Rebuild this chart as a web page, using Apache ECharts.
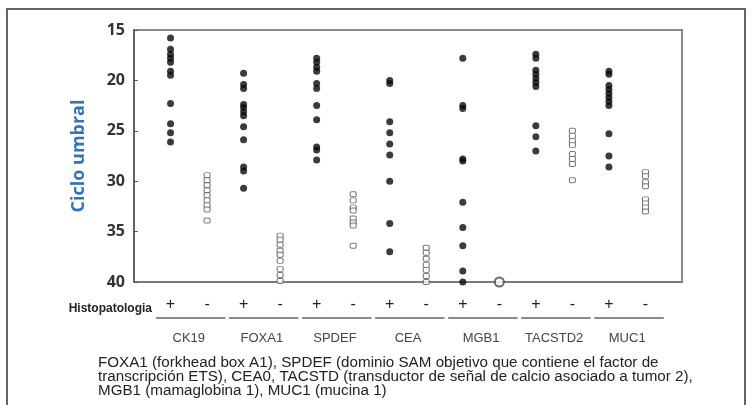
<!DOCTYPE html>
<html>
<head>
<meta charset="utf-8">
<script src="https://cdn.jsdelivr.net/npm/echarts@6/dist/echarts.min.js"></script>
<style>
  html, body { margin: 0; padding: 0; background: #fff; }
  #chart { width: 753px; height: 405px; }
</style>
</head>
<body>
<div id="chart"></div>
<script>
// genes, in plot order (each gets a "+" and a "-" column)
const genes = ['CK19', 'FOXA1', 'SPDEF', 'CEA', 'MGB1', 'TACSTD2', 'MUC1']
const histoSigns = ['+', '-']
const yTicks = [15, 20, 25, 30, 35, 40]

// threshold cycle values
const ck19Pos = [15.8, 16.9, 17.4, 17.8, 18.2, 19.1, 19.5, 22.3, 24.3, 25.2, 26.1]
const ck19Neg = [29.4, 29.9, 30.4, 30.9, 31.4, 31.9, 32.4, 32.8, 33.9]
const foxa1Pos = [19.3, 20.4, 20.8, 22.4, 22.7, 23.1, 23.5, 24.6, 25.9, 28.6, 29.0, 30.7]
const foxa1Neg = [35.4, 35.8, 36.3, 36.9, 37.3, 37.9, 38.7, 39.3, 39.9]
const spdefPos = [17.8, 18.2, 18.7, 19.1, 20.3, 20.8, 22.5, 23.9, 26.6, 26.9, 27.9]
const spdefNeg = [31.3, 31.9, 32.6, 32.9, 33.7, 34.1, 34.4, 36.4]
const ceaPos = [20.0, 20.3, 24.1, 25.2, 26.3, 27.4, 30.0, 34.2, 37.0]
const ceaNeg = [36.6, 37.1, 37.7, 38.3, 38.8, 39.4, 40.0]
const mgb1Pos = [17.8, 22.5, 22.8, 27.8, 28.0, 32.1, 34.6, 36.4, 38.9, 40.0]
const mgb1Neg = [40.0]
const tacstd2Pos = [17.4, 17.8, 19.0, 19.4, 19.8, 20.2, 20.6, 24.5, 25.6, 27.0]
const tacstd2Neg = [25.0, 25.5, 26.0, 26.4, 27.3, 27.8, 28.3, 29.9]
const muc1Pos = [19.1, 19.4, 20.5, 20.9, 21.3, 21.7, 22.1, 22.5, 25.3, 27.5, 28.6]
const muc1Neg = [29.1, 29.5, 30.1, 30.5, 31.8, 32.2, 32.6, 33.0]

const posLists = [ck19Pos, foxa1Pos, spdefPos, ceaPos, mgb1Pos, tacstd2Pos, muc1Pos]
const negLists = [ck19Neg, foxa1Neg, spdefNeg, ceaNeg, mgb1Neg, tacstd2Neg, muc1Neg]

const caption = [
  'FOXA1 (forkhead box A1), SPDEF (dominio SAM objetivo que contiene el factor de',
  'transcripción ETS), CEA0, TACSTD (transductor de señal de calcio asociado a tumor 2),',
  'MGB1 (mamaglobina 1), MUC1 (mucina 1)',
].join('\n')

// column positions on the x value axis: gene i -> "+" at 2i+1, "-" at 2i+2
const signPositions = genes.flatMap((_, i) => [2 * i + 1, 2 * i + 2])
const genePositions = genes.map((_, i) => 2 * i + 1.5)

const posData = posLists.flatMap((list, i) => list.map(v => [2 * i + 1, v]))
const negData = []
const bigNegData = []
negLists.forEach((list, i) => {
  list.forEach((v) => {
    if (genes[i] === 'MGB1')
      bigNegData.push([2 * i + 2, v])
    else
      negData.push([2 * i + 2, v])
  })
})

const chart = echarts.init(document.getElementById('chart'))
const GRID = { left: 134, right: 71, top: 30, bottom: 123 }

chart.setOption({
  animation: false,
  grid: { ...GRID, show: true, borderColor: '#8a8a8a', borderWidth: 2, backgroundColor: '#fff' },
  title: {
    text: caption,
    left: 93,
    top: 351,
    textStyle: { fontFamily: 'Liberation Sans, Arial', fontSize: 15.2, fontWeight: 'normal', color: '#222', lineHeight: 14 },
  },
  xAxis: [
    {
      type: 'value',
      min: 0,
      max: 15,
      position: 'bottom',
      splitLine: { show: false },
      axisLine: { show: true, lineStyle: { color: '#777', width: 1.5 } },
      axisTick: { show: false },
      axisLabel: {
        customValues: signPositions,
        formatter: v => histoSigns[(v - 1) % 2],
        margin: 23,
        verticalAlign: 'middle',
        fontFamily: 'Liberation Sans, Arial',
        fontSize: 16,
        color: '#222',
      },
    },
    {
      type: 'value',
      min: 0,
      max: 15,
      position: 'bottom',
      splitLine: { show: false },
      axisLine: { show: false },
      axisTick: { show: false },
      axisLabel: {
        customValues: genePositions,
        formatter: v => genes[(v - 1.5) / 2],
        margin: 56,
        verticalAlign: 'middle',
        fontFamily: 'Liberation Sans Narrow, Liberation Sans, Arial',
        fontSize: 13,
        color: '#444',
      },
    },
  ],
  yAxis: {
    type: 'value',
    inverse: true,
    min: yTicks[0],
    max: yTicks[yTicks.length - 1],
    interval: 5,
    name: 'Ciclo umbral',
    nameLocation: 'middle',
    nameGap: 46,
    nameTextStyle: { color: '#2f73c0', fontSize: 18, fontWeight: 'bold', fontFamily: 'Open Sans, Liberation Sans' },
    splitLine: { show: false },
    axisLine: { show: true, lineStyle: { color: '#555', width: 1.5 } },
    axisTick: { show: true, inside: true, length: 4, lineStyle: { color: '#555' } },
    axisLabel: { margin: 9, fontSize: 16, fontWeight: 'bold', color: '#333', fontFamily: 'Open Sans, Liberation Sans' },
  },
  series: [
    {
      name: 'positivo',
      type: 'scatter',
      clip: false,
      symbol: 'circle',
      symbolSize: 7,
      itemStyle: { color: '#0a0a0a' },
      data: posData,
    },
    {
      name: 'negativo',
      type: 'scatter',
      clip: false,
      symbol: 'roundRect',
      symbolSize: [6, 5],
      itemStyle: { color: '#fff', borderColor: '#555', borderWidth: 1 },
      data: negData,
    },
    {
      name: 'negativo MGB1',
      type: 'scatter',
      clip: false,
      symbol: 'circle',
      symbolSize: 9,
      itemStyle: { color: '#fff', borderColor: '#444', borderWidth: 2 },
      z: 3,
      data: bigNegData,
    },
  ],
})

// underlines below the +/- pairs, and row label
const underY = 318
const lines = genes.map((_, i) => {
  const x1 = chart.convertToPixel({ xAxisIndex: 0 }, 2 * i + 1 - 0.4)
  const x2 = chart.convertToPixel({ xAxisIndex: 0 }, 2 * i + 2 + 0.5)
  return {
    type: 'line',
    shape: { x1, y1: underY, x2, y2: underY },
    style: { stroke: '#8a8a8a', lineWidth: 2 },
  }
})

chart.setOption({
  graphic: [
    {
      type: 'rect',
      shape: { x: 7, y: 9, width: 738, height: 420 },
      style: { fill: null, stroke: '#333', lineWidth: 1.5 },
      silent: true,
      z: -10,
    },
    {
      type: 'text',
      x: 152,
      y: 309,
      style: {
        text: 'Histopatologia',
        align: 'right',
        verticalAlign: 'middle',
        font: 'bold 12px "Liberation Sans", Arial',
        fill: '#222',
      },
    },
    ...lines,
  ],
})
</script>
</body>
</html>
